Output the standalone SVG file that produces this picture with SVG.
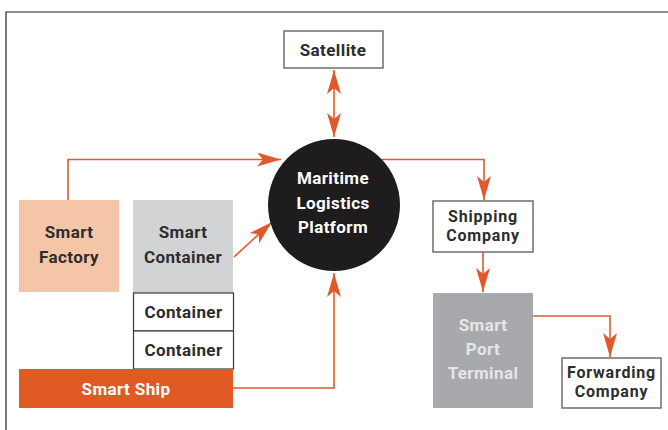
<svg xmlns="http://www.w3.org/2000/svg" width="668" height="430" viewBox="0 0 668 430">
<defs>
<style>
.t{font-family:Roboto,"Liberation Sans",sans-serif;font-weight:bold;font-size:17px;letter-spacing:0.4px;text-anchor:middle;dominant-baseline:central;fill:#2d2d2d}
.s{font-size:16px;letter-spacing:0.8px}
.w{fill:#ffffff}
.g{fill:#e6e6e6}
.box{fill:#ffffff;stroke:#6d6e70;stroke-width:1.5}
.cbox{fill:#ffffff;stroke:#3a3a3a;stroke-width:1.2}
.c{fill:none;stroke:#e0592a;stroke-width:1.6}
</style>
<marker id="ah" markerUnits="userSpaceOnUse" viewBox="0 0 24 14" refX="24" refY="7" markerWidth="24" markerHeight="14" orient="auto-start-reverse">
<path d="M0,0 L24,7 L0,14 L6,7 Z" fill="#e0592a"/>
</marker>
</defs>
<rect width="668" height="430" fill="#ffffff"/>
<path d="M6,430 V12 H668" fill="none" stroke="#222" stroke-width="1.2"/>
<g id="connectors">
<path class="c" d="M334,70 V137" marker-start="url(#ah)" marker-end="url(#ah)"/>
<path class="c" d="M68,200 V159.5 H281" marker-end="url(#ah)"/>
<path class="c" d="M382,159.5 H484 V200" marker-end="url(#ah)"/>
<path class="c" d="M483,252 V292" marker-end="url(#ah)"/>
<path class="c" d="M533,316 H610 V357" marker-end="url(#ah)"/>
<path class="c" d="M234,257 L272,222" marker-end="url(#ah)"/>
<path class="c" d="M233,388 H334 V273" marker-end="url(#ah)"/>
</g>
<g id="satellite">
<rect class="box" x="284" y="31" width="99" height="37"/>
<text class="t" x="333" y="49.5">Satellite</text>
</g>
<g id="platform">
<circle cx="334" cy="205" r="66" fill="#1f1c1d"/>
<text class="t w" x="333" y="178">Maritime</text>
<text class="t w" x="333" y="203">Logistics</text>
<text class="t w" x="333" y="227">Platform</text>
</g>
<g id="shipping-company">
<rect class="box" x="433" y="201" width="100" height="51"/>
<text class="t s" x="483" y="216.5">Shipping</text>
<text class="t s" x="483" y="235.5">Company</text>
</g>
<g id="smart-port-terminal">
<rect x="433" y="293" width="100" height="115" fill="#a7a9ac"/>
<text class="t g" x="483" y="325">Smart</text>
<text class="t g" x="483" y="349">Port</text>
<text class="t g" x="483" y="373">Terminal</text>
</g>
<g id="forwarding-company">
<rect class="box" x="562" y="358" width="99" height="50"/>
<text class="t s" x="611.5" y="372">Forwarding</text>
<text class="t s" x="611.5" y="391">Company</text>
</g>
<g id="smart-factory">
<rect x="19" y="200" width="100" height="92" fill="#f5c5a8"/>
<text class="t" x="69" y="232">Smart</text>
<text class="t" x="69" y="257">Factory</text>
</g>
<g id="smart-container">
<rect x="133" y="200" width="100" height="93" fill="#d1d3d4"/>
<text class="t" x="183" y="232">Smart</text>
<text class="t" x="183" y="257">Container</text>
</g>
<g id="container-1">
<rect class="cbox" x="133.5" y="293" width="100" height="38"/>
<text class="t" x="183.5" y="312">Container</text>
</g>
<g id="container-2">
<rect class="cbox" x="133.5" y="331" width="100" height="38"/>
<text class="t" x="183.5" y="350">Container</text>
</g>
<g id="smart-ship">
<rect x="19" y="369" width="214" height="39" fill="#e05a24"/>
<text class="t w" x="126" y="388.5">Smart Ship</text>
</g>
</svg>
